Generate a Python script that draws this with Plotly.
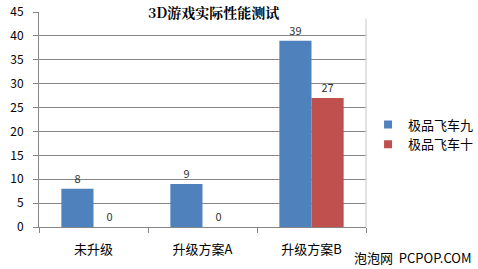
import plotly.graph_objects as go

categories = ["未升级", "升级方案A", "升级方案B"]
series_names = ["极品飞车九", "极品飞车十"]
nfs9 = [8, 9, 39]
nfs10 = [0, 0, 27]
colors = ["#4F81BD", "#C0504D"]
yticks = [0, 5, 10, 15, 20, 25, 30, 35, 40, 45]

font = "Noto Sans CJK SC, sans-serif"

fig = go.Figure()
for name, vals, c in zip(series_names, [nfs9, nfs10], colors):
    fig.add_trace(go.Bar(
        x=categories, y=vals, name=name, marker=dict(color=c, line=dict(width=0)),
        text=[str(v) for v in vals], textposition="outside", showlegend=False,
        textfont=dict(size=11, color="#333333", family=font), cliponaxis=False,
    ))
# legend entries with small square swatches
for name, c in zip(series_names, colors):
    fig.add_trace(go.Scatter(
        x=[None], y=[None], mode="markers", name=name,
        marker=dict(symbol="square", size=8, color=c), showlegend=True,
    ))

fig.update_layout(
    width=478, height=269,
    margin=dict(l=39, r=112, t=12, b=42, autoexpand=False),
    paper_bgcolor="white", plot_bgcolor="white",
    barmode="group", bargap=0.41, bargroupgap=0,
    showlegend=True,
    legend=dict(xref="container", yref="container", x=0.77, y=0.5,
                xanchor="left", yanchor="middle",
                font=dict(size=13, family=font, color="#000000"),
                itemwidth=30, bgcolor="rgba(0,0,0,0)"),
    title=dict(text="<b>3D游戏实际性能测试</b>", x=0.447, xanchor="center", y=0.95, yanchor="middle",
               font=dict(size=14, family="Noto Serif CJK SC, Noto Sans CJK SC, serif", color="#000000")),
    font=dict(family=font, size=11, color="#000000"),
)
fig.update_xaxes(showline=True, linecolor="#868686", linewidth=1, ticks="outside",
                 tickson="boundaries", ticklen=5, tickcolor="#868686", automargin=False,
                 ticklabelstandoff=10,
                 tickfont=dict(size=13, family=font, color="#000000"))
fig.update_yaxes(range=[0, 45], tickvals=yticks, showline=True, linecolor="#868686",
                 linewidth=1, ticks="outside", ticklen=5, tickcolor="#868686", automargin=False,
                 ticklabelstandoff=7,
                 showgrid=True, gridcolor="#868686", gridwidth=1, zeroline=False,
                 tickfont=dict(size=12, family=font, color="#000000"))
fig.add_shape(type="line", xref="paper", yref="paper", x0=1, x1=1, y0=0, y1=0.97,
              line=dict(color="#C8C8C8", width=1))
fig.add_annotation(text="泡泡网  PCPOP.COM", xref="paper", yref="paper", x=1.33, y=-0.09,
                   xanchor="right", yanchor="top", showarrow=False,
                   font=dict(size=13, family=font, color="#000000"))
fig.write_html("out.html")
